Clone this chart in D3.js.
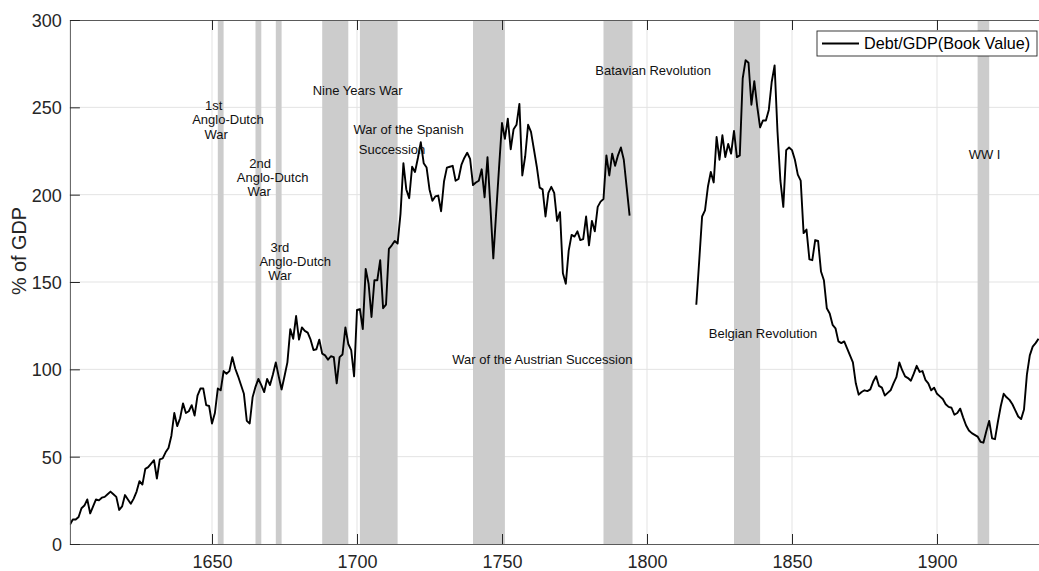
<!DOCTYPE html>
<html><head><meta charset="utf-8">
<script src="https://cdn.jsdelivr.net/npm/d3@7"></script>
<style>
body{margin:0;background:#fff}
svg{display:block}
text{font-family:"Liberation Sans",Arial,Helvetica,sans-serif}
</style>
</head><body>
<svg id="chart" width="1039" height="571"></svg>
<script>
// ---------------- data ----------------
const xTicks = [1650, 1700, 1750, 1800, 1850, 1900];
const yTicks = [0, 50, 100, 150, 200, 250, 300];
const seriesName = "Debt/GDP(Book Value)";
const yLabel = "% of GDP";

// Segment 1: yearly values 1601-1794
const seg1Start = 1601;
const seg1Values = [
  11,14,14,15.5,20.5,22,25.5,17.5,21.5,25.5,
  25,26.5,27,28.5,30,28.5,27,19.5,21.5,28,
  25.5,23,26,30,36,34,43,44,46,48,
  37.5,48.5,49,52.5,55,62,75,67.5,72,80.5,
  75,76,79.5,73.5,85,89,89,79.5,79,69,
  75,89,88,99,97.5,99,107,100.5,96,91,
  86,70.5,69,84,90,94.5,91,87,94.5,91,
  97,104,96,88.5,96,104,123,117.5,130.5,117,
  124,122,121,117,111,111.5,117,109,108,105.5,
  107.5,107,92,107,108.5,124,114.5,111,96,134,
  134.5,123,157.5,149,130,151,151,162.5,135,137,
  169,171,173.5,172,189,218,203,198,216,213,
  221,230,218,215.5,203,196.5,199,199.5,190.5,207.5,
  215.5,216,216.5,208,209,217,221,224,220.5,205.5,
  207,208,214.5,198.5,221.5,193,163.5,190,216,241,
  232,243.5,226,237.5,240,252,211,222,240,236,
  226,216,204,203,187.5,201,204.5,201,185,190,
  155,149,168,177,176,179,174,174.5,187.5,171,
  185,179,193,196,197.5,222.5,211,223.5,216.5,222.5,
  227,220,204,188
];

// Segment 2: yearly values 1817-1935
const seg2Start = 1817;
const seg2Values = [
  137,162,187.5,191,
  204.5,213,207,233,220,234,221.5,229,223.5,236.5,
  221.5,222.5,266.5,277,275.5,251.5,265,250.5,238.5,242.5,
  242.5,248.5,264.5,274,236,208,193,225.5,227,225.5,
  220,211.5,208,178,180,163,162.5,174,173.5,156,
  151,135,132,125.5,123.5,116,115,116,112,108,
  104,92,85.5,87,88,87.5,88.5,93,96,90.5,
  89.5,85,86.5,88,92,95.5,104,99.5,96,95,
  93.5,97.5,102,98.5,99,94,92,88,89.5,86,
  84.5,83,80,78.5,78,74,75,77.5,72.5,68,
  65,63.5,62.5,61.5,58.5,58,64.5,70.5,60.5,60,
  70,79,86,84,82.5,80,76.5,73,71.5,77,
  97,108,113,115,117.5
];

// War periods (shaded)
const warStart = [1652, 1665, 1672, 1688, 1701, 1740, 1785, 1830, 1914];
const warEnd   = [1654, 1667, 1674, 1697, 1714, 1751, 1795, 1839, 1918];

// Annotation texts
const noteTexts = ["1st","Anglo-Dutch","War","2nd","Anglo-Dutch","War","3rd","Anglo-Dutch","War",
  "Nine Years War","War of the Spanish","Succession","War of the Austrian Succession",
  "Batavian Revolution","Belgian Revolution","WW I"];

// ---------------- layout ----------------
// annotation anchor points in data coordinates (year, value)
const notePos = [
  [1650.6,251.3],[1655.5,242.9],[1651.4,234.5],
  [1666.6,218.0],[1670.9,210.0],[1666.3,201.7],
  [1673.4,170.0],[1678.7,162.0],[1673.4,154.0],
  [1700.2,259.5],[1717.8,237.4],[1712.1,226.1],
  [1763.9,105.7],[1802.1,271.4],[1840.0,120.8],[1916.4,223.3]
];

const pL = 69.9, pR = 1041.4, pT = 20, pB = 544;
const svg = d3.select("#chart");

const x = d3.scaleLinear().domain([1601, 1936]).range([pL, pR]);
const y = d3.scaleLinear().domain([0, 300]).range([pB, pT]);

svg.append("defs").append("clipPath").attr("id","clip")
  .append("rect").attr("x", pL).attr("y", pT).attr("width", pR-pL).attr("height", pB-pT);

// grid
const grid = svg.append("g");
grid.selectAll("line.gx").data(xTicks).join("line")
  .attr("x1", d=>x(d)).attr("x2", d=>x(d)).attr("y1", pT).attr("y2", pB)
  .attr("stroke", "#e3e3e3").attr("stroke-width", 1);
grid.selectAll("line.gy").data(yTicks.filter(d=>d>0 && d<300)).join("line")
  .attr("x1", pL).attr("x2", pR).attr("y1", d=>y(d)).attr("y2", d=>y(d))
  .attr("stroke", "#e3e3e3").attr("stroke-width", 1);

// war bands
svg.append("g").attr("clip-path","url(#clip)").selectAll("rect").data(warStart).join("rect")
  .attr("x", (d,i)=>x(d)).attr("width", (d,i)=>x(warEnd[i])-x(d))
  .attr("y", pT).attr("height", pB-pT).attr("fill", "#cccccc");

// series
const pts1 = seg1Values.map((v,i)=>({year: seg1Start+i, v}));
const pts2 = seg2Values.map((v,i)=>({year: seg2Start+i, v}));
const line = d3.line().x(d=>x(d.year)).y(d=>y(d.v));
const lg = svg.append("g").attr("clip-path","url(#clip)");
[pts1, pts2].forEach(p=>{
  lg.append("path").datum(p).attr("d", line).attr("fill","none")
    .attr("stroke","#000").attr("stroke-width",1.9).attr("stroke-linejoin","round");
});

// axes
const axCol = "#262626";
const xAxis = svg.append("g").attr("transform", `translate(0,${pB})`)
  .call(d3.axisBottom(x).tickValues(xTicks).tickFormat(d3.format("d")).tickSize(-10).tickSizeOuter(0).tickPadding(11));
const topAxis = svg.append("g").attr("transform", `translate(0,${pT})`)
  .call(d3.axisTop(x).tickValues(xTicks).tickFormat("").tickSize(-10).tickSizeOuter(0));
const yAxis = svg.append("g").attr("transform", `translate(${pL},0)`)
  .call(d3.axisLeft(y).tickValues(yTicks).tickSize(-10).tickSizeOuter(0).tickPadding(8));
[xAxis, topAxis, yAxis].forEach(g=>{
  g.select(".domain").attr("stroke", "#5a5a5a").attr("stroke-width", 1);
  g.selectAll(".tick line").attr("stroke", axCol).attr("stroke-width", 1);
  g.selectAll(".tick text").attr("fill", axCol).style("font-size","18px")
    .style("font-family", '"Liberation Sans",Arial,Helvetica,sans-serif');
});
yAxis.selectAll(".tick text").attr("dy","0.36em");

// y label
svg.append("text").attr("transform", "translate(19,251) rotate(-90)")
  .attr("text-anchor","middle").attr("dy","0.36em")
  .attr("fill", axCol).style("font-size","19.8px").text(yLabel);

// annotations
svg.append("g").selectAll("text").data(noteTexts).join("text")
  .attr("x", (d,i)=>x(notePos[i][0])).attr("y", (d,i)=>y(notePos[i][1]))
  .attr("text-anchor","middle").attr("dy","0.36em")
  .attr("fill","#111").style("font-size","13px").text(d=>d);

// legend
const leg = svg.append("g");
leg.append("rect").attr("x", 817).attr("y", 31).attr("width", 220).attr("height", 25)
  .attr("fill","#fff").attr("stroke", axCol).attr("stroke-width", 0.9);
leg.append("line").attr("x1", 822).attr("x2", 859).attr("y1", 43.5).attr("y2", 43.5)
  .attr("stroke","#000").attr("stroke-width", 1.9);
leg.append("text").attr("x", 864).attr("y", 43.5).attr("dy","0.36em")
  .attr("fill","#000").style("font-size","16.2px").text(seriesName);
</script>
</body></html>
